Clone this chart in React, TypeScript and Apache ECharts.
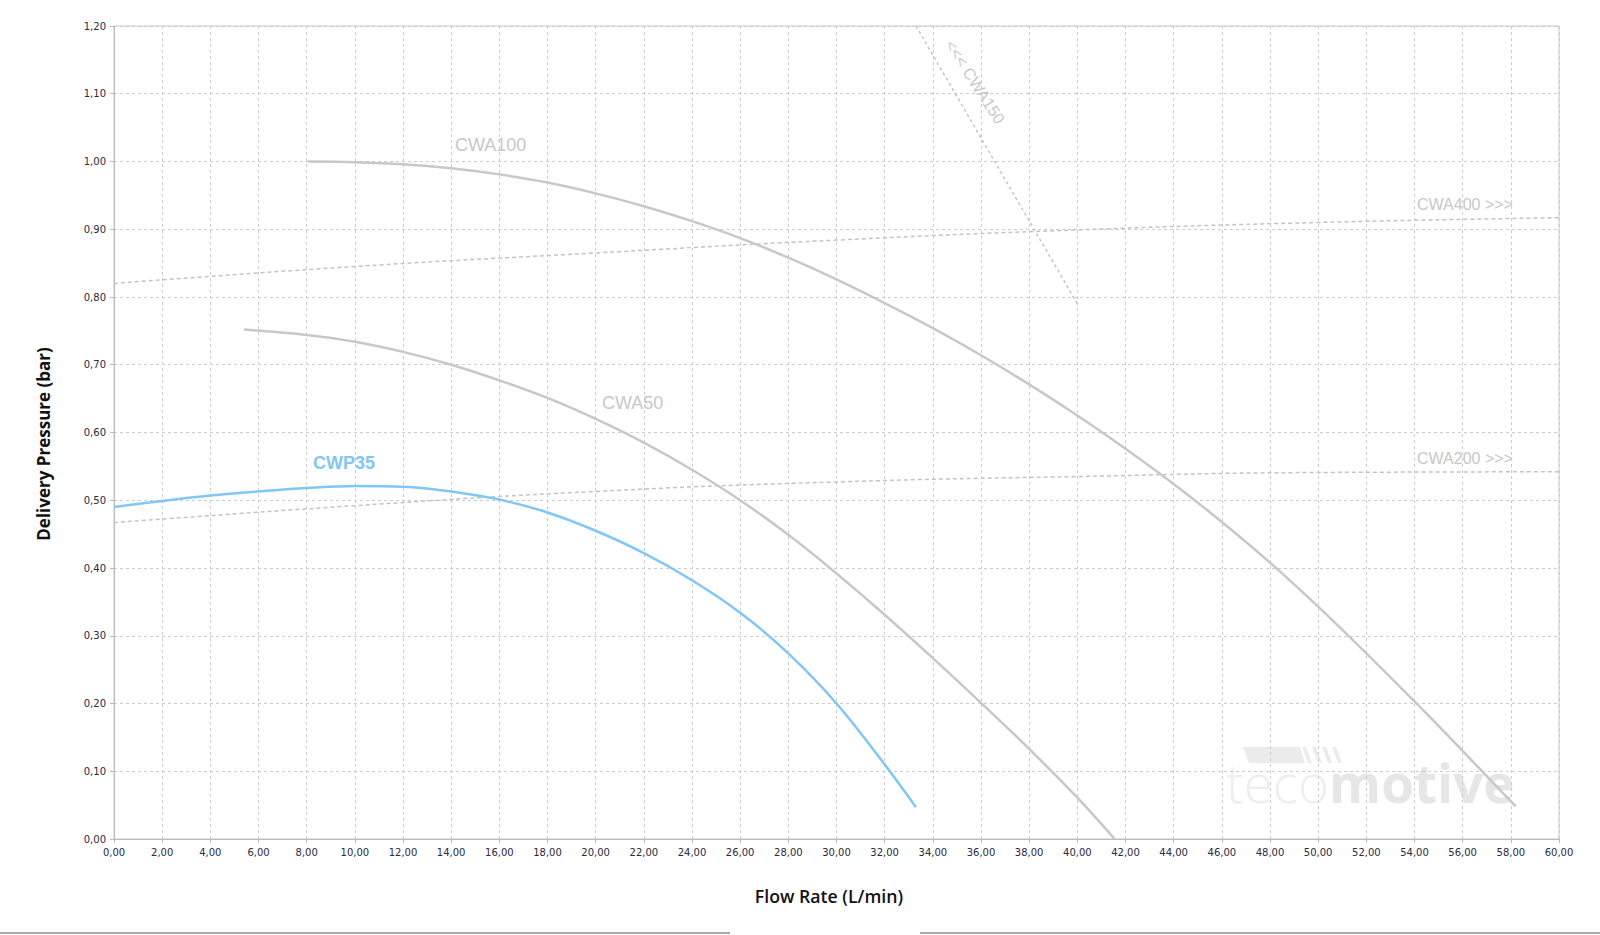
import React, { useEffect, useRef } from "react";
import * as echarts from "echarts";

const cwp35X = [0, 2, 4, 6, 8, 10, 12, 14, 16, 18, 20, 22, 24, 26, 28, 30, 32, 33.3];
const cwp35Y = [0.49, 0.499, 0.507, 0.513, 0.518, 0.521, 0.52, 0.513, 0.501, 0.482, 0.455, 0.422, 0.382, 0.334, 0.274, 0.2, 0.11, 0.047];

const cwa50X = [5.4, 8, 10, 12, 14, 16, 18, 20, 22, 24, 26, 28, 30, 32, 34, 36, 38, 40, 41.55];
const cwa50Y = [0.752, 0.744, 0.734, 0.719, 0.7, 0.677, 0.651, 0.62, 0.585, 0.545, 0.5, 0.449, 0.392, 0.331, 0.267, 0.201, 0.133, 0.061, 0];

const cwa100X = [8.05, 10, 12, 14, 16, 18, 20, 22, 24, 26, 28, 30, 32, 34, 36, 38, 40, 42, 44, 46, 48, 50, 52, 54, 56, 58.2];
const cwa100Y = [1.0, 0.999, 0.996, 0.99, 0.981, 0.969, 0.953, 0.934, 0.912, 0.887, 0.858, 0.826, 0.791, 0.754, 0.714, 0.671, 0.625, 0.576, 0.524, 0.468, 0.408, 0.343, 0.274, 0.203, 0.13, 0.048];

const cwa400X = [0, 10, 20, 30, 40, 50, 60];
const cwa400Y = [0.82, 0.845, 0.865, 0.884, 0.899, 0.91, 0.917];

const cwa200X = [0, 10, 20, 30, 40, 50, 60];
const cwa200Y = [0.467, 0.492, 0.513, 0.527, 0.535, 0.541, 0.542];

const cwa150X = [33.3, 40.0];
const cwa150Y = [1.2, 0.79];

const zip = (xs: number[], ys: number[]) => xs.map((x, i) => [x, ys[i]]);
const fmt = (v: number) => v.toFixed(2).replace(".", ",");

const GRAY = "#c8c8c8";
const BLUE = "#80c6f6";

export default function App() {
  const ref = useRef<HTMLDivElement>(null);
  useEffect(() => {
    const chart = echarts.init(ref.current!, null, { renderer: "svg" });
    const labelFont = "Liberation Sans, Arial, sans-serif";
    const curve = (xs: number[], ys: number[], color: string, z: number) => ({
      type: "line",
      data: zip(xs, ys),
      smooth: 0.35,
      symbol: "none",
      z,
      lineStyle: { color, width: 2.5 },
    });
    chart.setOption({
      animation: false,
      backgroundColor: "#ffffff",
      grid: {
        left: 114,
        right: 41,
        top: 26,
        bottom: 96,
        show: true,
        borderColor: "#c8c8c8",
        borderWidth: 1,
        backgroundColor: "transparent",
      },
      xAxis: {
        type: "value",
        min: 0,
        max: 60,
        interval: 2,
        axisLine: { lineStyle: { color: "#bbbbbb" } },
        axisTick: { show: true, length: 4, lineStyle: { color: "#bbbbbb" } },
        axisLabel: { formatter: fmt, fontFamily: "DejaVu Sans", fontSize: 10, color: "#2a2a40", margin: 8 },
        splitLine: { show: true, lineStyle: { color: "#cccccc", type: [3, 3], width: 1 } },
      },
      yAxis: {
        type: "value",
        min: 0,
        max: 1.2,
        interval: 0.1,
        axisLine: { show: true, lineStyle: { color: "#bbbbbb" } },
        axisTick: { show: true, length: 4, lineStyle: { color: "#bbbbbb" } },
        axisLabel: { formatter: fmt, fontFamily: "DejaVu Sans", fontSize: 10, color: "#2a2a40", margin: 8 },
        splitLine: { show: true, lineStyle: { color: "#cccccc", type: [3, 3], width: 1 } },
      },
      series: [
        {
          type: "line", data: zip(cwa400X, cwa400Y), smooth: true, symbol: "none", z: 3,
          lineStyle: { color: "#c4c4c4", width: 1.5, type: [4, 3] },
        },
        {
          type: "line", data: zip(cwa200X, cwa200Y), smooth: true, symbol: "none", z: 3,
          lineStyle: { color: "#c4c4c4", width: 1.5, type: [4, 3] },
        },
        {
          type: "line", data: zip(cwa150X, cwa150Y), smooth: false, symbol: "none", z: 3,
          lineStyle: { color: "#c4c4c4", width: 1.5, type: [3, 3] },
        },
        curve(cwa100X, cwa100Y, GRAY, 4),
        curve(cwa50X, cwa50Y, GRAY, 4),
        curve(cwp35X, cwp35Y, BLUE, 5),
      ],
      graphic: [
        // axis titles
        {
          type: "text", x: 43, y: 444, rotation: Math.PI / 2,
          style: {
            text: "Delivery Pressure (bar)", fontFamily: "Open Sans", fontWeight: "bold", fontSize: 17,
            fill: "#111", align: "center", verticalAlign: "middle",
          },
        },
        {
          type: "text", x: 829, y: 896,
          style: {
            text: "Flow Rate (L/min)", fontFamily: "Open Sans", fontWeight: 600, fontSize: 17.7,
            fill: "#111", align: "center", verticalAlign: "middle",
          },
        },
        // watermark logo
        {
          type: "polygon", z: 0, silent: true,
          shape: { points: [[1243, 747], [1300, 747], [1305, 763], [1249, 763]] },
          style: { fill: "#ebebeb" },
        },
        ...[0, 1, 2, 3].map((i) => ({
          type: "polygon", z: 0, silent: true,
          shape: {
            points: [
              [1302 + i * 10, 747],
              [1306 + i * 10, 747],
              [1312 + i * 10, 763],
              [1308 + i * 10, 763],
            ],
          },
          style: { fill: "#ebebeb" },
        })),
        {
          type: "text", z: 0, silent: true, left: 1226, top: 756,
          style: {
            text: "{a|teco}{b|motive}",
            rich: {
              a: { fontFamily: "Open Sans", fontWeight: 300, fontSize: 53, fill: "#eeeeee" },
              b: { fontFamily: "Open Sans", fontWeight: "bold", fontSize: 53, fill: "#e6e6e6" },
            },
          },
        },
        // curve labels
        {
          type: "text", left: 455, top: 136, z: 10,
          style: { text: "CWA100", font: `18px ${labelFont}`, fill: GRAY },
        },
        {
          type: "text", left: 602, top: 394, z: 10,
          style: { text: "CWA50", font: `18px ${labelFont}`, fill: GRAY },
        },
        {
          type: "text", left: 313, top: 454, z: 10,
          style: { text: "CWP35", font: `bold 18px ${labelFont}`, fill: BLUE },
        },
        {
          type: "text", left: 1417, top: 196, z: 10,
          style: { text: "CWA400 >>>", font: `16px ${labelFont}`, fill: GRAY },
        },
        {
          type: "text", left: 1417, top: 450, z: 10,
          style: { text: "CWA200 >>>", font: `16px ${labelFont}`, fill: GRAY },
        },
        {
          type: "text", x: 975, y: 82, z: 10, rotation: -1.0,
          style: { text: "<<< CWA150", font: `16px ${labelFont}`, fill: GRAY, align: "center", verticalAlign: "middle" },
        },
        // bottom divider lines
        {
          type: "line", z: 10, shape: { x1: 0, y1: 933, x2: 730, y2: 933 },
          style: { stroke: "#aaaaaa", lineWidth: 2 },
        },
        {
          type: "line", z: 10, shape: { x1: 920, y1: 933, x2: 1600, y2: 933 },
          style: { stroke: "#aaaaaa", lineWidth: 2 },
        },
      ],
    });
    return () => chart.dispose();
  }, []);
  return (
    <div
      ref={ref}
      style={{ position: "fixed", left: 0, top: 0, width: 1600, height: 935, background: "#fff" }}
    />
  );
}
